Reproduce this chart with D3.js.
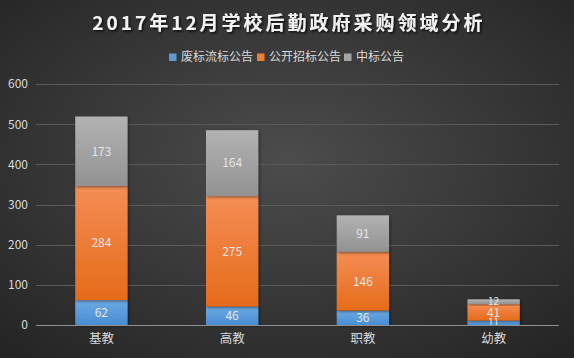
<!DOCTYPE html>
<html><head><meta charset="utf-8">
<script src="https://cdn.jsdelivr.net/npm/d3@7/dist/d3.min.js"></script>
<style>html,body{margin:0;padding:0;background:#333;}svg{display:block;}</style>
</head><body>
<svg id="c" width="574" height="358"></svg>
<script>
const categories = ["基教", "高教", "职教", "幼教"];
const seriesNames = ["废标流标公告", "公开招标公告", "中标公告"];
const feibiao = [62, 46, 36, 11];
const gongkai = [284, 275, 146, 41];
const zhongbiao = [173, 164, 91, 12];
const yTicks = [0, 100, 200, 300, 400, 500, 600];
const title = "2017年12月学校后勤政府采购领域分析";

(function(){
const W = 574, H = 358;
const svg = d3.select("#c");
const defs = svg.append("defs");
const bg = defs.append("radialGradient").attr("id","bg").attr("cx","50%").attr("cy","45%").attr("r","75%");
bg.append("stop").attr("offset","0%").attr("stop-color","#4c4c4c");
bg.append("stop").attr("offset","100%").attr("stop-color","#232323");
svg.append("rect").attr("width",W).attr("height",H).attr("fill","url(#bg)");

const grads = [["g0","#6eaae3","#478dd4"],["g1","#f48d55","#e56b19"],["g2","#b2b2b2","#929292"]];
grads.forEach(([id,a,b])=>{
  const g = defs.append("linearGradient").attr("id",id).attr("x1",0).attr("y1",0).attr("x2",0).attr("y2",1);
  g.append("stop").attr("offset","0%").attr("stop-color",a);
  g.append("stop").attr("offset","100%").attr("stop-color",b);
});
const sh = defs.append("filter").attr("id","sh").attr("x","-20%").attr("y","-20%").attr("width","140%").attr("height","140%");
sh.append("feDropShadow").attr("dx",1).attr("dy",1).attr("stdDeviation",1.5).attr("flood-color","#000").attr("flood-opacity",0.5);
const tsh = defs.append("filter").attr("id","tsh");
tsh.append("feDropShadow").attr("dx",1.5).attr("dy",1.5).attr("stdDeviation",1).attr("flood-color","#000").attr("flood-opacity",0.8);

const pl = 36, pr = 559, pt = 84, pb = 325;
const x = d3.scaleBand().domain(categories).range([pl, pr]).paddingInner(0.6).paddingOuter(0.3);
const y = d3.scaleLinear().domain([0, 600]).range([pb, pt]);

const font = "'Noto Sans CJK SC', 'Noto Sans', sans-serif";

svg.append("g").selectAll("line").data(yTicks.filter(d=>d>0)).join("line")
  .attr("x1",pl).attr("x2",pr).attr("y1",d=>Math.round(y(d))+0.5).attr("y2",d=>Math.round(y(d))+0.5)
  .attr("stroke","#5a5a5a").attr("stroke-width",1);

const yAxis = d3.axisLeft(y).tickValues(yTicks).tickSize(0).tickPadding(8);
const ya = svg.append("g").attr("transform",`translate(${pl},0)`).call(yAxis);
ya.select(".domain").remove();
ya.selectAll("text").attr("fill","#d9d9d9").attr("font-family",font).attr("font-size",12);

const rows = categories.map((c,i)=>({cat:c, s0:feibiao[i], s1:gongkai[i], s2:zhongbiao[i]}));
const stack = d3.stack().keys(["s0","s1","s2"])(rows);
const gBars = svg.append("g");
stack.forEach((layer,li)=>{
  gBars.append("g").selectAll("rect").data(layer).join("rect")
    .attr("x",d=>x(d.data.cat)).attr("width",x.bandwidth())
    .attr("y",d=>y(d[1])).attr("height",d=>y(d[0])-y(d[1]))
    .attr("fill",`url(#g${li})`).attr("filter","url(#sh)");
});
stack.forEach((layer,li)=>{
  svg.append("g").selectAll("text").data(layer).join("text")
    .attr("x",d=>x(d.data.cat)+x.bandwidth()/2)
    .attr("y",d=>(y(d[0])+y(d[1]))/2)
    .attr("dy","0.36em").attr("text-anchor","middle")
    .attr("fill","#e6e6e6").attr("font-family",font).attr("font-size",d=>(y(d[0])-y(d[1]))<14?10:12)
    .text(d=>d[1]-d[0]);
});

const xa = svg.append("g").attr("transform",`translate(0,${pb})`)
  .call(d3.axisBottom(x).tickSize(0).tickPadding(9));
xa.select(".domain").attr("d",`M${pl},0.5H${pr}`).attr("stroke","#8f8f8f").attr("stroke-width",1.2);
xa.selectAll("text").attr("fill","#d9d9d9").attr("font-family",font).attr("font-size",12.5);

svg.append("text").attr("x",289).attr("y",30).attr("text-anchor","middle")
  .attr("fill","#f2f2f2").attr("font-family",font).attr("font-weight","bold").attr("font-size",19)
  .attr("letter-spacing",3).attr("filter","url(#tsh)").text(title);

const colors = ["#5b9bd5","#ed7d31","#a5a5a5"];
const legX = [169, 257, 344];
const lg = svg.append("g");
seriesNames.forEach((n,i)=>{
  lg.append("rect").attr("x",legX[i]).attr("y",53.5).attr("width",7.5).attr("height",7.5).attr("fill",colors[i]);
  lg.append("text").attr("x",legX[i]+12).attr("y",57).attr("dy","0.36em")
    .attr("fill","#d9d9d9").attr("font-family",font).attr("font-size",12).text(n);
});
})();
</script>
</body></html>
